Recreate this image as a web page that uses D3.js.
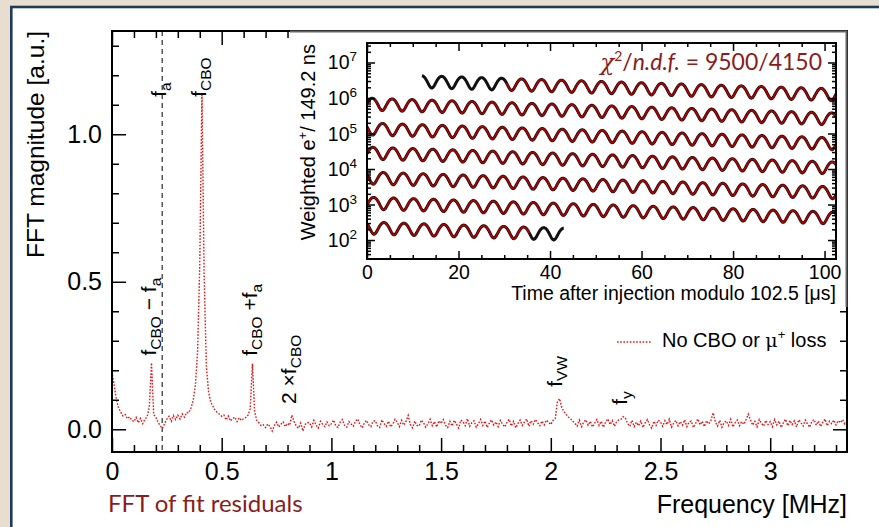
<!DOCTYPE html>
<html><head><meta charset="utf-8">
<script src="https://cdn.jsdelivr.net/npm/d3@7"></script>
<style>html,body{margin:0;padding:0;background:#e8ded0;} svg{display:block}</style>
</head><body>
<svg id="c" width="879" height="527"></svg>
<script>
// ---------------- DATA ----------------
// FFT of fit residuals, sampled every 0.01 MHz starting at 0 MHz
const fftStartMHz = 0.0;
const fftStepMHz = 0.01;
const fftMagnitude = [
 .195,.150,.100,.072,.058,.045,.050,.036,.042,.031,
 .026,.040,.022,.037,.019,.034,.042,.075,.225,.050,
 .040,.024,.012,.003,.020,.034,.044,.027,.047,.033,
 .048,.035,.052,.041,.057,.056,.072,.098,.150,.260,
 .560,1.140,.520,.215,.128,.092,.078,.064,.057,.051,
 .044,.048,.032,.045,.028,.036,.041,.026,.039,.030,
 .036,.040,.048,.070,.222,.060,.030,.022,.012,.015,
 .006,.018,.010,-.006,.013,.024,.008,.017,.025,.009,
 .020,.014,.048,.026,.011,.004,.021,-.006,.016,.023,
 .022,.008,.030,.014,.004,.027,.017,.009,.025,.012,
 .019,.031,.011,.006,.024,.033,.013,.007,.026,.018,
 .010,.028,.035,.016,.005,.021,.030,.015,.009,.027,
 .029,.012,.006,.032,.020,.010,.027,.008,.018,.034,
 .024,.009,.030,.014,.026,.047,.016,.005,.028,.013,
 .011,.031,.022,.007,.019,.034,.012,.026,.008,.029,
 .020,.033,.014,.006,.027,.011,.030,.018,.004,.031,
 .026,.012,.036,.010,.022,.029,.007,.019,.033,.013,
 .028,.006,.021,.032,.014,.025,.009,.030,.017,.008,
 .023,.034,.011,.027,.005,.019,.031,.013,.025,.035,
 .010,.029,.017,.033,.022,.012,.028,.015,.031,.024,
 .016,.030,.036,.092,.104,.074,.060,.050,.042,.035,
 .028,.020,.011,.031,.009,.024,.032,.014,.027,.008,
 .021,.033,.013,.027,.007,.025,.035,.016,.029,.010,
 .026,.032,.034,.043,.038,.020,.010,.030,.009,.024,
 .012,.028,.006,.022,.033,.015,.004,.027,.013,.031,
 .025,.010,.029,.016,.034,.007,.021,.030,.012,.026,
 .014,.032,.009,.024,.028,.006,.020,.035,.015,.027,
 .009,.029,.018,.031,.056,.025,.011,.030,.007,.023,
 .028,.013,.034,.008,.022,.031,.012,.026,.017,.033,
 .051,.032,.014,.027,.008,.033,.021,.011,.030,.016,
 .026,.009,.033,.015,.028,.006,.022,.034,.012,.030,
 .016,.029,.008,.032,.023,.011,.031,.018,.007,.027,
 .033,.014,.028,.009,.024,.035,.012,.027,.019,.031,
 .015,.029,.022,.033,.018,.026
];
const faFrequency = 0.229;           // MHz, dashed line
const xTickValues = [0, 0.5, 1, 1.5, 2, 2.5, 3];
const xTickLabels = ["0", "0.5", "1", "1.5", "2", "2.5", "3"];
const yTickValues = [0, 0.5, 1.0];
const yTickLabels = ["0.0", "0.5", "1.0"];

// peak annotations: [text, kind] pieces
const peakLabelParts = [
  [["f",""],["a","sub"]],
  [["f",""],["CBO","sub"]],
  [["f",""],["CBO","sub"],[" \u2212 f",""],["a","sub"]],
  [["f",""],["CBO","sub"],[" +f",""],["a","sub"]],
  [["2 \u00d7f",""],["CBO","sub"]],
  [["f",""],["VW","sub"]],
  [["f",""],["y","sub"]]
];
const peakLabelFreq   = [0.229, 0.411, 0.181, 0.641, 0.822, 2.035, 2.33];
const peakLabelHeight = [1.127, 1.127, 0.25, 0.249, 0.086, 0.144, 0.083];

const legendLabel = ["No CBO or ", "\u03bc", "+", " loss"];

// inset: wiggle fit, one band per 102.5 us segment
const insetXTicks = [0, 20, 40, 60, 80, 100];
const insetYExponents = [2, 3, 4, 5, 6, 7];
const bandLog10Start = [6.54, 5.86, 5.16, 4.48, 3.78, 3.07, 2.37];
const bandDriftDecades = 0.42;
const bandDataStart = [12, 0, 0, 0, 0, 0, 0];
const bandDataEnd   = [102.5, 102.5, 102.5, 102.5, 102.5, 102.5, 43];
const bandFitStart  = [30.5, 0, 0, 0, 0, 0, 0];
const bandFitEnd    = [102.5, 102.5, 102.5, 102.5, 102.5, 102.5, 35.5];
const wigglePeriod = 4.365;   // us
const wiggleAsym = 0.37;
const wigglePhase0 = 0.258;   // cycles, band 0
const wigglePhaseStep = 0.482; // cycles per 102.5 us
const chi2Text = ["\u03c7", "2", "/", "n.d.f.", " = 9500/4150"];

// ---------------- DRAWING ----------------
const W = 879, H = 527;
const FONT = "'Liberation Sans', Arial, Helvetica, sans-serif";
const DARKRED = "#8b1c1c";
const svg = d3.select("#c");

svg.append("rect").attr("width", W).attr("height", H).attr("fill", "#e8ded0");
svg.append("rect").attr("x", 11.3).attr("y", 7).attr("width", W).attr("height", H)
  .attr("fill", "#fff").attr("stroke", "#1f3b5c").attr("stroke-width", 2.6);

const P = {l: 112, r: 847, t: 31, b: 452};
const x = d3.scaleLinear().domain([0, 3.35]).range([P.l, P.r]);
const y = d3.scaleLinear().domain([-0.077, 1.35]).range([P.b, P.t]);

function tidy(g, size) {
  g.select(".domain").remove();
  g.selectAll("line").attr("stroke", "#000").attr("stroke-width", 1.5);
  g.selectAll("text").attr("font-family", FONT).attr("font-size", size).attr("fill", "#000");
}
const xMinor = d3.range(0, 3.351, 0.1).filter(v => Math.abs(v*2 - Math.round(v*2)) > 1e-6);
const yMinor = d3.range(-0.0, 1.351, 0.1).filter(v => Math.abs(v*2 - Math.round(v*2)) > 1e-6);

svg.append("clipPath").attr("id", "mclip").append("rect")
  .attr("x", P.l).attr("y", P.t).attr("width", P.r - P.l).attr("height", P.b - P.t);

const fftLine = d3.line()
  .x((d, i) => x(fftStartMHz + i * fftStepMHz))
  .y(d => y(d));
svg.append("path").datum(fftMagnitude).attr("d", fftLine)
  .attr("clip-path", "url(#mclip)")
  .attr("fill", "none").attr("stroke", "#e81414").attr("stroke-width", 1.4)
  .attr("stroke-dasharray", "1.6 1.6");

svg.append("line").attr("x1", x(faFrequency)).attr("x2", x(faFrequency))
  .attr("y1", P.t).attr("y2", P.b).attr("stroke", "#555").attr("stroke-width", 1.5)
  .attr("stroke-dasharray", "5 4");

const gxb = svg.append("g").attr("transform", `translate(0,${P.b})`)
  .call(d3.axisBottom(x).tickValues(xTickValues).tickSizeInner(-14).tickSizeOuter(0).tickPadding(10)
    .tickFormat((d, i) => xTickLabels[i]));
tidy(gxb, 25);
tidy(svg.append("g").attr("transform", `translate(0,${P.b})`)
  .call(d3.axisBottom(x).tickValues(xMinor).tickSizeInner(-7).tickSizeOuter(0).tickFormat("")), 24);
tidy(svg.append("g").attr("transform", `translate(0,${P.t})`)
  .call(d3.axisTop(x).tickValues(xTickValues).tickSizeInner(-14).tickSizeOuter(0).tickFormat("")), 24);
tidy(svg.append("g").attr("transform", `translate(0,${P.t})`)
  .call(d3.axisTop(x).tickValues(xMinor).tickSizeInner(-7).tickSizeOuter(0).tickFormat("")), 24);
const gyl = svg.append("g").attr("transform", `translate(${P.l},0)`)
  .call(d3.axisLeft(y).tickValues(yTickValues).tickSizeInner(-14).tickSizeOuter(0).tickPadding(10)
    .tickFormat((d, i) => yTickLabels[i]));
tidy(gyl, 25);
tidy(svg.append("g").attr("transform", `translate(${P.l},0)`)
  .call(d3.axisLeft(y).tickValues(yMinor).tickSizeInner(-7).tickSizeOuter(0).tickFormat("")), 24);
tidy(svg.append("g").attr("transform", `translate(${P.r},0)`)
  .call(d3.axisRight(y).tickValues(yTickValues).tickSizeInner(-14).tickSizeOuter(0).tickFormat("")), 24);
tidy(svg.append("g").attr("transform", `translate(${P.r},0)`)
  .call(d3.axisRight(y).tickValues(yMinor).tickSizeInner(-7).tickSizeOuter(0).tickFormat("")), 24);

svg.append("rect").attr("x", P.l).attr("y", P.t).attr("width", P.r - P.l).attr("height", P.b - P.t)
  .attr("fill", "none").attr("stroke", "#000").attr("stroke-width", 2);

svg.append("text").attr("x", P.r).attr("y", 513).attr("text-anchor", "end")
  .attr("font-family", FONT).attr("font-size", 25).text("Frequency [MHz]");
svg.append("text").attr("transform", `translate(44,${P.t}) rotate(-90)`).attr("text-anchor", "end")
  .attr("font-family", FONT).attr("font-size", 24.5).text("FFT magnitude [a.u.]");
svg.append("text").attr("x", 108).attr("y", 512)
  .attr("font-family", "Lato, 'Open Sans', sans-serif").attr("font-size", 24).attr("fill", DARKRED)
  .text("FFT of fit residuals");

peakLabelParts.forEach((parts, i) => {
  const t = svg.append("text")
    .attr("transform", `translate(${x(peakLabelFreq[i]) + 4},${y(peakLabelHeight[i])}) rotate(-90)`)
    .attr("font-family", FONT).attr("font-size", 21);
  let shifted = false;
  parts.forEach(([s, kind]) => {
    const ts = t.append("tspan").text(s);
    if (kind === "sub" && !shifted) { ts.attr("dy", 5).attr("font-size", 15.5); shifted = true; }
    else if (kind === "sub") { ts.attr("font-size", 15.5); }
    else if (shifted) { ts.attr("dy", -5); shifted = false; }
  });
});

svg.append("line").attr("x1", 617).attr("x2", 652).attr("y1", 342).attr("y2", 342)
  .attr("stroke", "#e81414").attr("stroke-width", 1.4).attr("stroke-dasharray", "1.6 1.6");
const lg = svg.append("text").attr("x", 662).attr("y", 347).attr("font-family", FONT).attr("font-size", 20);
lg.append("tspan").text(legendLabel[0]);
lg.append("tspan").attr("font-family", "'DejaVu Serif', serif").attr("font-size", 19).text(legendLabel[1]);
lg.append("tspan").attr("dy", -8).attr("font-size", 13).text(legendLabel[2]);
lg.append("tspan").attr("dy", 8).text(legendLabel[3]);

// ---------------- INSET ----------------
const padX0 = 290;
svg.append("rect").attr("x", padX0).attr("y", P.t).attr("width", P.r - padX0).attr("height", 307 - P.t)
  .attr("fill", "#fff");
svg.append("path").attr("d", `M${padX0},${P.t+0.5}H${P.r-0.5}V307`)
  .attr("fill", "none").attr("stroke", "#666").attr("stroke-width", 2);

const I = {l: 367, r: 836, t: 43, b: 259};
const ix = d3.scaleLinear().domain([0, 102.5]).range([I.l, I.r]);
const iy = d3.scaleLog().domain([29.2, 3.54e7]).range([I.b, I.t]);

svg.append("clipPath").attr("id", "iclip").append("rect")
  .attr("x", I.l).attr("y", I.t).attr("width", I.r - I.l).attr("height", I.b - I.t);

function wiggle(k, t) {
  const lev = bandLog10Start[k] - bandDriftDecades * t / 102.5;
  const ph = wigglePhase0 + k * wigglePhaseStep;
  return Math.pow(10, lev) * (1 + wiggleAsym * Math.cos(2 * Math.PI * (t / wigglePeriod + ph)));
}
const wline = d3.line().x(d => ix(d[0])).y(d => iy(d[1]));
const gw = svg.append("g").attr("clip-path", "url(#iclip)");
bandLog10Start.forEach((_, k) => {
  const pts = d3.range(bandDataStart[k], bandDataEnd[k] + 1e-9, 0.1).map(t => [t, wiggle(k, t)]);
  gw.append("path").datum(pts).attr("d", wline).attr("fill", "none")
    .attr("stroke", "#111").attr("stroke-width", 3.0).attr("stroke-linejoin", "round");
});
bandLog10Start.forEach((_, k) => {
  const pts = d3.range(bandFitStart[k], bandFitEnd[k] + 1e-9, 0.1).map(t => [t, wiggle(k, t)]);
  gw.append("path").datum(pts).attr("d", wline).attr("fill", "none")
    .attr("stroke", "#b00000").attr("stroke-width", 1.7).attr("stroke-linejoin", "round");
});

const iMinorX = d3.range(0, 102.6, 5).filter(v => v % 20 !== 0);
const iMajorY = insetYExponents.map(e => Math.pow(10, e));
const iMinorY = [];
for (let e = 1; e <= 7; e++) for (let m = 2; m <= 9; m++) {
  const v = m * Math.pow(10, e);
  if (v > 29.2 && v < 3.54e7) iMinorY.push(v);
}
tidy(svg.append("g").attr("transform", `translate(0,${I.b})`)
  .call(d3.axisBottom(ix).tickValues(insetXTicks).tickSizeInner(-8).tickSizeOuter(0).tickPadding(6)
    .tickFormat(d3.format("d"))), 19.5);
tidy(svg.append("g").attr("transform", `translate(0,${I.b})`)
  .call(d3.axisBottom(ix).tickValues(iMinorX).tickSizeInner(-4).tickSizeOuter(0).tickFormat("")), 19);
tidy(svg.append("g").attr("transform", `translate(0,${I.t})`)
  .call(d3.axisTop(ix).tickValues(insetXTicks).tickSizeInner(-8).tickSizeOuter(0).tickFormat("")), 19);
tidy(svg.append("g").attr("transform", `translate(0,${I.t})`)
  .call(d3.axisTop(ix).tickValues(iMinorX).tickSizeInner(-4).tickSizeOuter(0).tickFormat("")), 19);
tidy(svg.append("g").attr("transform", `translate(${I.l},0)`)
  .call(d3.axisLeft(iy).tickValues(iMajorY).tickSizeInner(-8).tickSizeOuter(0).tickFormat("")), 19);
tidy(svg.append("g").attr("transform", `translate(${I.l},0)`)
  .call(d3.axisLeft(iy).tickValues(iMinorY).tickSizeInner(-4).tickSizeOuter(0).tickFormat("")), 19);
tidy(svg.append("g").attr("transform", `translate(${I.r},0)`)
  .call(d3.axisRight(iy).tickValues(iMajorY).tickSizeInner(-8).tickSizeOuter(0).tickFormat("")), 19);
tidy(svg.append("g").attr("transform", `translate(${I.r},0)`)
  .call(d3.axisRight(iy).tickValues(iMinorY).tickSizeInner(-4).tickSizeOuter(0).tickFormat("")), 19);
svg.append("rect").attr("x", I.l).attr("y", I.t).attr("width", I.r - I.l).attr("height", I.b - I.t)
  .attr("fill", "none").attr("stroke", "#000").attr("stroke-width", 2);

insetYExponents.forEach(e => {
  const t = svg.append("text").attr("x", I.l - 10).attr("y", iy(Math.pow(10, e)) + 7)
    .attr("text-anchor", "end").attr("font-family", FONT).attr("font-size", 19.5);
  t.append("tspan").text("10");
  t.append("tspan").attr("dy", -8).attr("font-size", 13.5).text(String(e));
});

svg.append("text").attr("x", I.r).attr("y", 300).attr("text-anchor", "end")
  .attr("font-family", FONT).attr("font-size", 19.5)
  .text("Time after injection modulo 102.5 [\u03bcs]");
const yt = svg.append("text").attr("transform", `translate(315,${I.t + 1}) rotate(-90)`)
  .attr("text-anchor", "end").attr("font-family", FONT).attr("font-size", 20);
yt.append("tspan").text("Weighted e");
yt.append("tspan").attr("dy", -8).attr("font-size", 13).text("+");
yt.append("tspan").attr("dy", 8).text("/ 149.2 ns");

const ct = svg.append("text").attr("x", 822).attr("y", 70).attr("text-anchor", "end")
  .attr("font-family", "Lato, 'DejaVu Sans', sans-serif").attr("font-size", 23).attr("fill", DARKRED);
ct.append("tspan").attr("font-style", "italic").attr("font-family", "'DejaVu Serif', serif").text(chi2Text[0]);
ct.append("tspan").attr("dy", -9).attr("font-size", 14).text(chi2Text[1]);
ct.append("tspan").attr("dy", 9).text(chi2Text[2]);
ct.append("tspan").attr("font-style", "italic").text(chi2Text[3]);
ct.append("tspan").text(chi2Text[4]);
</script>
</body></html>
